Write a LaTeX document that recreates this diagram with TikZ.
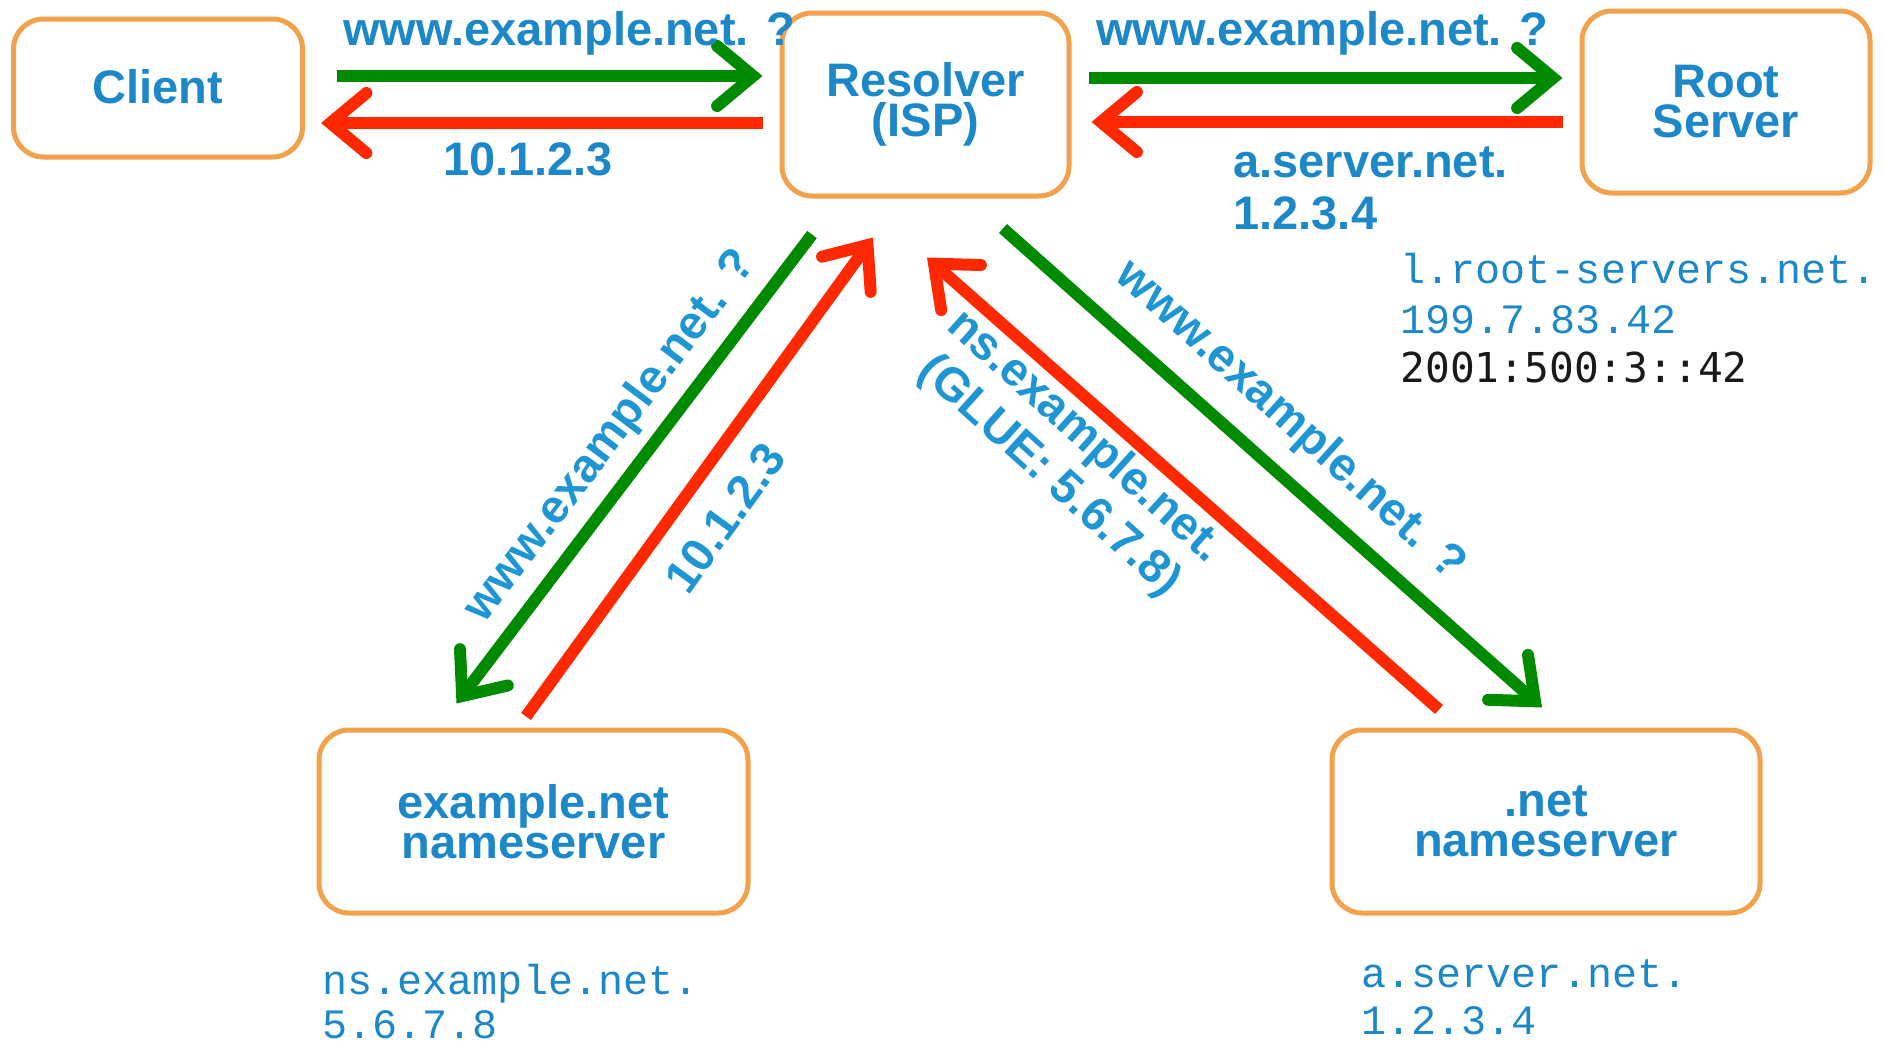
\documentclass[tikz,border=0pt]{standalone}
\usepackage{fontspec}
\setmainfont{Liberation Sans}
\newfontfamily\courfont{Liberation Mono}
\newfontfamily\dvmono{DejaVu Sans Mono}
\usetikzlibrary{arrows.meta}
\definecolor{txtblue}{RGB}{28,136,200}
\definecolor{lblblue}{RGB}{30,150,212}
\definecolor{arrgreen}{RGB}{0,138,0}
\definecolor{arrred}{RGB}{255,40,0}
\definecolor{boxorange}{RGB}{242,162,77}
\begin{document}
\begin{tikzpicture}[x=0.5pt,y=-0.5pt,
  box/.style={draw=boxorange,line width=2.5pt,rounded corners=15pt,fill=white,
    text=txtblue,font=\fontsize{23.5}{20}\selectfont\bfseries,align=center,inner sep=0pt},
  tipstyle/.style={-{Straight Barb[length=18pt,width=30pt,line cap=round,line join=miter]}},
  garrow/.style={draw=arrgreen,line width=6pt,tipstyle},
  rarrow/.style={draw=arrred,line width=6pt,tipstyle},
  lbl/.style={text=txtblue,font=\fontsize{23.5}{26.5}\selectfont\bfseries,inner sep=0pt},
  dlbl/.style={text=lblblue,font=\fontsize{23.5}{26.5}\selectfont\bfseries,inner sep=0pt,align=center},
  mono/.style={text=txtblue,font=\fontsize{20.9}{24.5}\selectfont\courfont,inner sep=0pt,anchor=base west},
  monoblk/.style={text=black!90,font=\fontsize{20.6}{24.5}\selectfont\dvmono,inner sep=0pt,anchor=base west}
]
\path[use as bounding box] (0,0) rectangle (1883,1044);

% boxes
\node[box,minimum width=144.5pt,minimum height=69pt] (client) at (158,88) {\raisebox{1.5pt}{Client}};
\node[box,minimum width=143.5pt,minimum height=91.5pt] (resolver) at (925.5,104.5) {Resolver\\(ISP)};
\node[box,minimum width=144pt,minimum height=91pt] (root) at (1726,102) {Root\\Server};
\node[box,minimum width=214.5pt,minimum height=91.5pt] (exnet) at (533.5,821.5) {example.net\\nameserver};
\node[box,minimum width=214pt,minimum height=91.5pt] (netns) at (1546,821.5) {.net\\nameserver};

% horizontal arrows
\draw[garrow] ([shift={(31.5,-12)}]client.east) -- ([shift={(-17,-28.5)}]resolver.west);
\draw[rarrow] ([shift={(-17,18.5)}]resolver.west) -- ([shift={(16,35)}]client.east);
\draw[garrow] ([shift={(17,-26.5)}]resolver.east) -- ([shift={(-17,-24)}]root.west);
\draw[rarrow] ([shift={(-17,20)}]root.west) -- ([shift={(20,17.5)}]resolver.east);

% diagonal arrows
\draw[garrow] ([shift={(-113.5,36)}]resolver.south) -- ([shift={(-77,-24)}]exnet.north);
\draw[rarrow] ([shift={(-7.5,-11)}]exnet.north) -- ([shift={(-52.5,39)}]resolver.south);
\draw[rarrow] ([shift={(-107,-18)}]netns.north) -- ([shift={(1.5,59)}]resolver.south);
\draw[garrow] ([shift={(77.5,30)}]resolver.south) -- ([shift={(-4,-20)}]netns.north);

% arrow labels
\node[lbl,anchor=base] (q1) at (569,46) {www.example.net. ?};
\node[lbl,anchor=base] (a1) at (528,175) {10.1.2.3};
\node[lbl,anchor=base] (q2) at (1322,46) {www.example.net. ?};
\node[lbl,anchor=base west] (a2a) at (1233,177) {a.server.net.};
\node[lbl,anchor=base west] (a2b) at (1233,229) {1.2.3.4};

\node[dlbl,rotate=53] (q3) at (611,437) {www.example.net. ?};
\node[dlbl,rotate=54] (a3) at (725,518) {10.1.2.3};
\node[dlbl,rotate=-42] (q4) at (1290,421) {www.example.net. ?};
\node[dlbl,rotate=-42] (a4) at (1067,457) {ns.example.net.\\(GLUE: 5.6.7.8)};

% monospace info
\node[mono] (r1) at (1400,283) {l.root-servers.net.};
\node[mono] (r2) at (1400,333) {199.7.83.42};
\node[monoblk] (r3) at (1400,382) {2001:500:3::42};
\node[mono] (e1) at (322,994) {ns.example.net.};
\node[mono] (e2) at (322,1038) {5.6.7.8};
\node[mono] (n1) at (1361,987) {a.server.net.};
\node[mono] (n2) at (1361,1034) {1.2.3.4};
\end{tikzpicture}
\end{document}
